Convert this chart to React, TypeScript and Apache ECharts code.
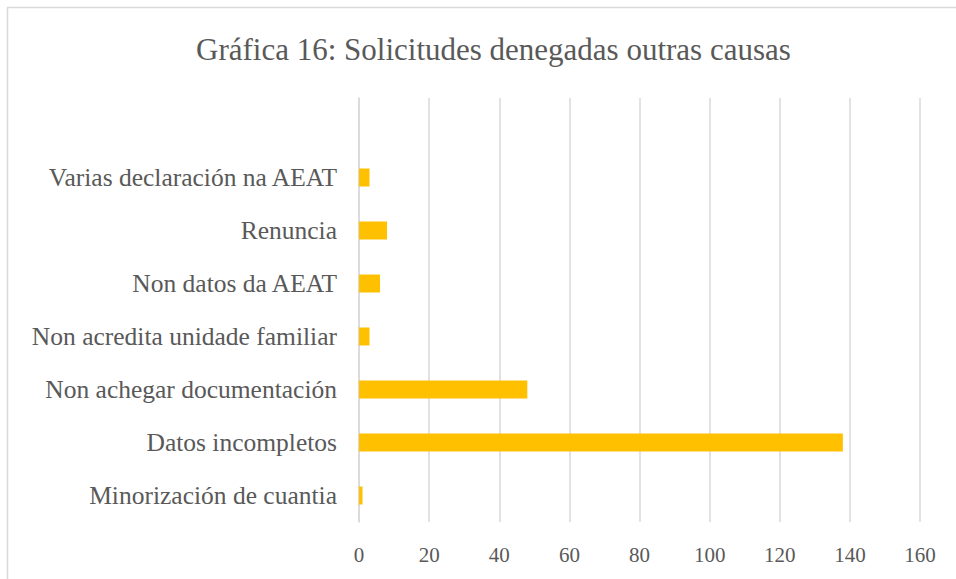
import React, { useEffect, useRef } from "react";
import * as echarts from "echarts";

const categories = [
  "Minorización de cuantia",
  "Datos incompletos",
  "Non achegar documentación",
  "Non acredita unidade familiar",
  "Non datos da AEAT",
  "Renuncia",
  "Varias declaración na AEAT",
  "",
];
const values: (number | null)[] = [1, 138, 48, 3, 6, 8, 3, null];
const xTicks = { min: 0, max: 160, interval: 20 };
const title = "Gráfica 16: Solicitudes denegadas outras causas";

const FONT = "'Liberation Serif', serif";
const TEXT = "#595959";

export default function App() {
  const ref = useRef<HTMLDivElement>(null);
  useEffect(() => {
    document.body.style.margin = "0";
    const chart = echarts.init(ref.current!, null, { renderer: "svg" });
    chart.setOption({
      animation: false,
      backgroundColor: "#ffffff",
      title: {
        text: title,
        left: 191,
        top: 29,
        textStyle: { fontFamily: FONT, fontSize: 31, fontWeight: "normal", color: TEXT },
      },
      graphic: [
        {
          type: "rect",
          shape: { x: 7.5, y: 7.5, width: 1000, height: 700 },
          style: { fill: "none", stroke: "#d9d9d9", lineWidth: 1.5 },
          silent: true,
        },
      ],
      grid: { left: 359, right: 956 - 920, top: 98, bottom: 579 - 522, containLabel: false },
      xAxis: {
        type: "value",
        min: xTicks.min,
        max: xTicks.max,
        interval: xTicks.interval,
        axisLine: { show: false },
        axisTick: { show: false },
        splitLine: { lineStyle: { color: "#d9d9d9", width: 1.5 } },
        axisLabel: { fontFamily: FONT, fontSize: 21, color: TEXT, margin: 22 },
      },
      yAxis: {
        type: "category",
        data: categories,
        axisLine: { show: true, lineStyle: { color: "#d9d9d9", width: 1.5 } },
        axisTick: { show: false },
        axisLabel: { fontFamily: FONT, fontSize: 25.5, color: TEXT, margin: 22 },
      },
      series: [
        {
          type: "bar",
          data: values,
          barWidth: 18,
          itemStyle: { color: "#FFC000" },
        },
      ],
    });
    return () => chart.dispose();
  }, []);
  return <div ref={ref} style={{ width: 956, height: 579 }} />;
}
